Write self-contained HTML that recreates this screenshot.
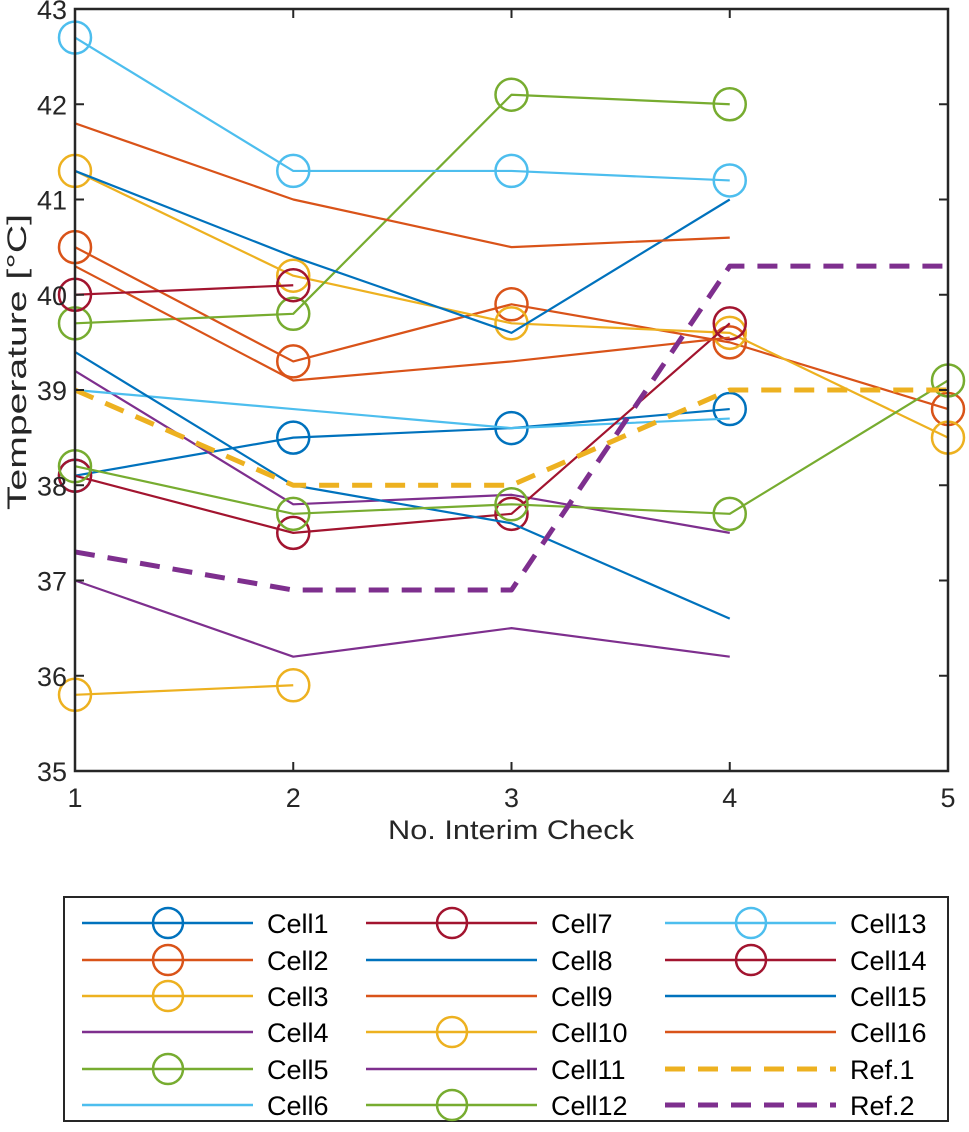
<!DOCTYPE html>
<html><head><meta charset="utf-8"><style>
html,body{margin:0;padding:0;background:#fff;}
svg{display:block;font-family:"Liberation Sans",Arial,sans-serif;}
</style></head><body>
<svg id="chart" width="969" height="1132" viewBox="0 0 969 1132" xmlns="http://www.w3.org/2000/svg">
<rect x="0" y="0" width="969" height="1132" fill="#fff"/>
<g id="plot"></g>
<g id="axes"></g>
<g id="legend"></g>
</svg>
<script>
const xTicks = [1,2,3,4,5];
const yTicks = [35,36,37,38,39,40,41,42,43];
const seriesNames = ["Cell1","Cell2","Cell3","Cell4","Cell5","Cell6","Cell7","Cell8","Cell9","Cell10","Cell11","Cell12","Cell13","Cell14","Cell15","Cell16","Ref.1","Ref.2"];
const cell1 = [38.1,38.5,38.6,38.8];
const cell2 = [40.5,39.3,39.9,39.5,38.8];
const cell3 = [41.3,40.2,39.7,39.6,38.5];
const cell4 = [39.2,37.8,37.9,37.5];
const cell5 = [39.7,39.8,42.1,42.0];
const cell6 = [39.0,38.8,38.6,38.7];
const cell7 = [38.1,37.5,37.7,39.7];
const cell8 = [39.4,38.0,37.6,36.6];
const cell9 = [40.3,39.1,39.3,39.55];
const cell10 = [35.8,35.9];
const cell11 = [37.0,36.2,36.5,36.2];
const cell12 = [38.2,37.7,37.8,37.7,39.1];
const cell13 = [42.7,41.3,41.3,41.2];
const cell14 = [40.0,40.1];
const cell15 = [41.3,40.4,39.6,41.0];
const cell16 = [41.8,41.0,40.5,40.6];
const ref1 = [39.0,38.0,38.0,39.0,39.0];
const ref2 = [37.3,36.9,36.9,40.3,40.3];

const C = {blue:"#0072BD",orange:"#D95319",yellow:"#EDB120",purple:"#7E2F8E",green:"#77AC30",cyan:"#4DBEEE",red:"#A2142F"};
const styles = [
 [cell1,C.blue,true,false],[cell2,C.orange,true,false],[cell3,C.yellow,true,false],
 [cell4,C.purple,false,false],[cell5,C.green,true,false],[cell6,C.cyan,false,false],
 [cell7,C.red,true,false],[cell8,C.blue,false,false],[cell9,C.orange,false,false],
 [cell10,C.yellow,true,false],[cell11,C.purple,false,false],[cell12,C.green,true,false],
 [cell13,C.cyan,true,false],[cell14,C.red,true,false],[cell15,C.blue,false,false],
 [cell16,C.orange,false,false],[ref1,C.yellow,false,true],[ref2,C.purple,false,true]];

const L=75,R=948,T=9,B=771;
const xs = v => L + (v-1)*(R-L)/4;
const ys = v => B - (v-35)*(B-T)/8;
const NS="http://www.w3.org/2000/svg";
function mk(tag, attrs, parent){const e=document.createElementNS(NS,tag);for(const k in attrs)e.setAttribute(k,attrs[k]);parent.appendChild(e);return e;}
const plot=document.getElementById('plot'), axes=document.getElementById('axes'), legend=document.getElementById('legend');

styles.forEach((s,i)=>{
  const [vals,col,mark,dash]=s;
  const pts=vals.map((v,j)=>xs(j+1)+","+ys(v)).join(" ");
  const pl=mk('polyline',{points:pts,fill:"none",stroke:col,"stroke-width":dash?5:2.2,"stroke-dasharray":dash?"20 13":"none","stroke-linejoin":"round"},plot);
  
  
  if(mark){vals.forEach((v,j)=>{
    const c=mk('circle',{cx:xs(j+1),cy:ys(v),r:16,fill:"none",stroke:col,"stroke-width":2.5},plot);
    
    
  });}
});

const box=mk('rect',{x:L,y:T,width:R-L,height:B-T,fill:"none",stroke:"#262626","stroke-width":2.5},axes);


yTicks.forEach(v=>{
  mk('line',{x1:L,x2:L+9,y1:ys(v),y2:ys(v),stroke:"#262626","stroke-width":2},axes);
  mk('line',{x1:R,x2:R-9,y1:ys(v),y2:ys(v),stroke:"#262626","stroke-width":2},axes);
  const t=mk('text',{x:L-8,y:ys(v)+10,"text-anchor":"end","font-size":27,fill:"#262626",textLength:30,lengthAdjust:"spacingAndGlyphs"},axes);
  t.textContent=v;
  
  
});
xTicks.forEach(v=>{
  mk('line',{x1:xs(v),x2:xs(v),y1:B,y2:B-9,stroke:"#262626","stroke-width":2},axes);
  mk('line',{x1:xs(v),x2:xs(v),y1:T,y2:T+9,stroke:"#262626","stroke-width":2},axes);
  const t=mk('text',{x:xs(v),y:B+36,"text-anchor":"middle","font-size":27,fill:"#262626",textLength:15,lengthAdjust:"spacingAndGlyphs"},axes);
  t.textContent=v;
  
  
});
const xl=mk('text',{x:511,y:839,"text-anchor":"middle","font-size":27,fill:"#262626",textLength:246,lengthAdjust:"spacingAndGlyphs"},axes);
xl.textContent="No. Interim Check";


const yl=mk('text',{x:0,y:0,"text-anchor":"middle","font-size":27,fill:"#262626",textLength:296,lengthAdjust:"spacingAndGlyphs",transform:"translate(26,362) rotate(-90)"},axes);
yl.textContent="Temperature [°C]";



const lb=mk('rect',{x:64,y:897,width:884,height:224,fill:"#fff",stroke:"#262626","stroke-width":2},legend);


const colX=[82,366,665], rowY=[923,960,996,1032,1069,1105];
styles.forEach((s,i)=>{
  const [vals,col,mark,dash]=s;
  const cx=colX[Math.floor(i/6)], cy=rowY[i%6];
  const g=mk('g',{},legend);
  
  
  mk('line',{x1:cx,x2:cx+171,y1:cy,y2:cy,stroke:col,"stroke-width":dash?5:2.5,"stroke-dasharray":dash?"20 13":"none"},g);
  if(mark) mk('circle',{cx:cx+86,cy:cy,r:15,fill:"none",stroke:col,"stroke-width":2.5},g);
  const t=mk('text',{x:cx+185,y:cy+10,"font-size":27,fill:"#000"},g);
  t.textContent=seriesNames[i];
});
</script>
</body></html>
